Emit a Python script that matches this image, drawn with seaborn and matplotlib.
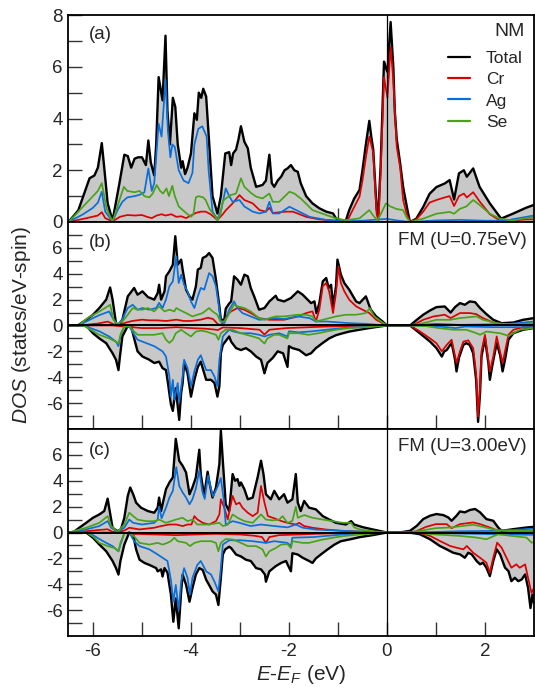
import matplotlib
matplotlib.use("Agg")
import matplotlib.pyplot as plt
import seaborn as sns
from matplotlib.ticker import FixedLocator

# ---------------- data: (E - E_F [eV], DOS) ----------------
# panel (a) NM
a_total = [(-6.5,0),(-6.3,0.45),(-6.07,1.69),(-5.97,1.8),(-5.9,2.1),(-5.82,3.05),(-5.77,2.1),(-5.7,0.72),(-5.6,0.05),(-5.46,1.5),(-5.36,2.6),(-5.29,2.55),(-5.22,2.1),(-5.15,2.45),(-5.08,2.5),(-5.0,2.5),(-4.92,2.2),(-4.87,3.15),(-4.82,2.3),(-4.75,1.8),(-4.71,3.0),(-4.66,5.6),(-4.58,4.7),(-4.52,7.2),(-4.48,4.3),(-4.43,3.0),(-4.37,4.8),(-4.32,4.45),(-4.27,3.0),(-4.2,2.1),(-4.17,2.35),(-4.12,1.85),(-4.07,2.1),(-4.0,2.65),(-3.93,4.2),(-3.88,3.95),(-3.84,5.0),(-3.79,4.8),(-3.75,5.15),(-3.69,4.85),(-3.62,2.8),(-3.56,1.0),(-3.46,0.33),(-3.39,1.0),(-3.3,2.65),(-3.22,2.7),(-3.18,2.2),(-3.14,2.65),(-3.08,2.8),(-3.03,3.2),(-2.98,3.7),(-2.91,3.1),(-2.84,2.85),(-2.78,2.1),(-2.67,1.36),(-2.54,1.43),(-2.47,1.6),(-2.4,2.6),(-2.35,1.5),(-2.3,1.36),(-2.23,1.6),(-2.16,1.75),(-2.09,2.0),(-2.03,2.07),(-1.96,2.2),(-1.89,2.0),(-1.82,1.94),(-1.76,1.5),(-1.65,1.0),(-1.52,0.72),(-1.38,0.53),(-1.24,0.4),(-1.1,0.33),(-1.04,0.14),(-0.97,0.08),(-0.84,0.05),(-0.77,0.46),(-0.67,0.9),(-0.56,1.24),(-0.5,2.0),(-0.43,3.0),(-0.36,3.91),(-0.32,3.3),(-0.28,2.8),(-0.21,0.5),(-0.18,0.2),(-0.13,2.14),(-0.06,6.2),(-0.03,6.0),(0.01,5.8),(0.075,7.73),(0.13,6.0),(0.16,4.3),(0.2,3.2),(0.27,2.26),(0.33,1.36),(0.38,0.85),(0.42,0.45),(0.47,0.0),(0.6,0.13),(0.74,0.58),(0.87,1.09),(1.01,1.35),(1.18,1.49),(1.28,1.62),(1.37,0.87),(1.47,1.88),(1.57,2.0),(1.63,1.75),(1.76,2.07),(1.89,1.36),(2.1,0.72),(2.33,0.13),(2.57,0.32),(2.84,0.55),(3.0,0.66)]
a_cr = [(-6.5,0),(-6.2,0.12),(-5.9,0.25),(-5.82,0.38),(-5.75,0.15),(-5.6,0.02),(-5.45,0.2),(-5.3,0.27),(-5.15,0.25),(-5.0,0.27),(-4.9,0.2),(-4.8,0.15),(-4.7,0.25),(-4.6,0.3),(-4.52,0.25),(-4.4,0.3),(-4.3,0.2),(-4.2,0.22),(-4.1,0.15),(-4.0,0.25),(-3.9,0.35),(-3.8,0.4),(-3.7,0.4),(-3.6,0.3),(-3.46,0.08),(-3.35,0.3),(-3.29,0.45),(-3.15,0.72),(-3.01,1.04),(-2.91,0.85),(-2.74,0.72),(-2.6,0.46),(-2.47,0.4),(-2.4,0.55),(-2.33,0.35),(-2.06,0.4),(-1.92,0.4),(-1.65,0.2),(-1.38,0.1),(-1.04,0.05),(-0.85,0.05),(-0.8,0.08),(-0.7,0.46),(-0.56,0.98),(-0.5,1.6),(-0.43,2.5),(-0.36,3.3),(-0.28,2.68),(-0.21,0.3),(-0.17,0.08),(-0.13,1.88),(-0.06,5.6),(0.01,4.8),(0.075,6.77),(0.13,5.5),(0.2,2.9),(0.27,2.1),(0.33,0.85),(0.4,0.33),(0.47,0.0),(0.6,0.1),(0.74,0.4),(0.87,0.75),(1.01,0.85),(1.18,0.95),(1.28,1.0),(1.37,0.62),(1.47,1.0),(1.57,1.1),(1.63,0.95),(1.76,1.15),(1.89,0.8),(2.1,0.3),(2.33,0.03),(2.57,0.05),(2.84,0.1),(3.0,0.1)]
a_ag = [(-6.5,0),(-6.2,0.3),(-6.0,0.55),(-5.9,0.75),(-5.82,1.17),(-5.75,0.4),(-5.6,0.02),(-5.5,0.45),(-5.4,0.78),(-5.3,0.95),(-5.15,1.0),(-5.05,1.05),(-4.95,1.15),(-4.87,2.07),(-4.8,1.2),(-4.75,1.5),(-4.66,3.8),(-4.6,3.3),(-4.52,5.5),(-4.47,3.5),(-4.42,2.5),(-4.38,3.0),(-4.33,2.9),(-4.25,2.0),(-4.15,1.6),(-4.05,1.5),(-3.97,1.9),(-3.93,3.0),(-3.85,3.6),(-3.77,3.7),(-3.68,3.3),(-3.64,2.0),(-3.56,0.4),(-3.46,0.1),(-3.38,0.5),(-3.29,1.3),(-3.22,1.0),(-3.15,0.78),(-3.01,0.85),(-2.91,0.6),(-2.74,0.4),(-2.6,0.33),(-2.47,0.4),(-2.4,0.78),(-2.33,0.33),(-2.2,0.33),(-1.99,0.59),(-1.79,0.4),(-1.58,0.2),(-1.24,0.08),(-0.9,0.03),(-0.5,0.05),(0.0,0.12),(0.2,0.06),(0.47,0.0),(1.0,0.06),(1.5,0.08),(2.0,0.05),(2.4,0.05),(3.0,0.25)]
a_se = [(-6.5,0),(-6.2,0.6),(-6.0,1.0),(-5.9,1.2),(-5.82,1.5),(-5.72,0.5),(-5.6,0.02),(-5.45,0.9),(-5.37,1.36),(-5.3,1.2),(-5.15,1.15),(-5.05,1.2),(-4.95,1.0),(-4.85,0.95),(-4.78,1.1),(-4.7,1.43),(-4.63,1.2),(-4.57,1.1),(-4.5,1.3),(-4.45,1.0),(-4.38,1.4),(-4.33,1.0),(-4.25,0.6),(-4.1,0.35),(-4.0,0.2),(-3.95,0.3),(-3.9,0.95),(-3.85,1.0),(-3.75,0.95),(-3.7,0.85),(-3.62,0.5),(-3.5,0.2),(-3.46,0.05),(-3.4,0.3),(-3.35,0.8),(-3.29,0.91),(-3.19,1.04),(-3.08,1.1),(-2.98,1.69),(-2.91,1.36),(-2.78,1.13),(-2.67,0.98),(-2.54,0.91),(-2.4,1.1),(-2.33,0.78),(-2.2,0.78),(-1.99,1.17),(-1.89,1.1),(-1.76,0.91),(-1.52,0.46),(-1.24,0.27),(-1.04,0.14),(-0.84,0.07),(-0.56,0.14),(-0.36,0.46),(-0.26,0.2),(-0.19,0.07),(-0.12,0.33),(-0.02,0.72),(0.07,0.6),(0.2,0.5),(0.33,0.46),(0.4,0.19),(0.47,0.0),(0.74,0.13),(1.01,0.32),(1.28,0.39),(1.37,0.32),(1.49,0.51),(1.62,0.6),(1.76,0.85),(1.89,0.66),(2.1,0.32),(2.3,0.13),(2.57,0.06),(3.0,0.2)]

# panel (b) FM U=0.75 eV, spin up (+) and spin down (-)
b_total_up = [(-6.5,0),(-6.31,0),(-6.14,0.44),(-6.0,0.83),(-5.87,1.35),(-5.73,2.0),(-5.65,2.94),(-5.6,2.0),(-5.53,0.18),(-5.46,0),(-5.4,0.44),(-5.29,2.25),(-5.16,2.9),(-5.09,2.38),(-4.99,2.64),(-4.88,2.2),(-4.75,2.0),(-4.68,2.5),(-4.65,3.15),(-4.61,2.0),(-4.54,2.64),(-4.51,3.8),(-4.44,4.19),(-4.37,4.7),(-4.32,6.9),(-4.27,4.7),(-4.2,5.09),(-4.17,4.32),(-4.1,2.77),(-4.03,2.25),(-3.97,2.0),(-3.9,3.02),(-3.86,4.32),(-3.8,4.45),(-3.76,5.22),(-3.69,5.35),(-3.63,5.6),(-3.56,5.22),(-3.49,3.54),(-3.42,1.48),(-3.39,0.44),(-3.32,0.44),(-3.29,1.3),(-3.22,1.7),(-3.18,1.86),(-3.12,3.8),(-3.05,3.54),(-2.98,3.15),(-2.91,3.93),(-2.84,3.8),(-2.78,2.9),(-2.71,2.25),(-2.61,1.22),(-2.5,1.35),(-2.4,1.86),(-2.27,2.3),(-2.23,2.0),(-2.1,1.86),(-1.96,2.12),(-1.82,2.64),(-1.72,2.38),(-1.62,2.0),(-1.55,1.73),(-1.48,1.86),(-1.44,0.96),(-1.38,1.73),(-1.31,3.41),(-1.24,3.67),(-1.19,2.9),(-1.14,3.15),(-1.1,1.48),(-1.04,3.03),(-1.01,5.09),(-0.94,3.93),(-0.87,3.28),(-0.77,2.77),(-0.63,1.86),(-0.56,1.73),(-0.43,2.25),(-0.33,1.22),(-0.22,0.7),(-0.09,0.31),(0.0,0),(0.47,0),(0.61,0.44),(0.74,0.83),(0.88,1.16),(1.01,1.42),(1.18,1.47),(1.3,1.0),(1.39,1.42),(1.49,1.73),(1.59,1.6),(1.69,1.86),(1.8,1.8),(1.9,1.35),(2.03,0.88),(2.17,0.44),(2.34,0.18),(2.58,0.23),(2.78,0.44),(3.0,0.57)]
b_cr_up = [(-6.5,0),(-6.2,0.03),(-5.9,0.15),(-5.7,0.3),(-5.55,0.05),(-5.47,0.0),(-5.35,0.2),(-5.2,0.35),(-5.0,0.45),(-4.85,0.4),(-4.7,0.4),(-4.5,0.35),(-4.3,0.45),(-4.15,0.35),(-4.0,0.35),(-3.8,0.45),(-3.65,0.6),(-3.55,0.5),(-3.45,0.1),(-3.38,0.05),(-3.3,0.5),(-3.25,0.85),(-3.18,1.09),(-3.05,1.35),(-2.91,1.22),(-2.78,0.96),(-2.61,0.57),(-2.4,0.44),(-2.1,0.44),(-1.82,0.7),(-1.65,0.96),(-1.52,1.09),(-1.45,0.31),(-1.38,1.22),(-1.31,3.03),(-1.24,3.28),(-1.18,2.64),(-1.1,0.96),(-1.04,2.51),(-0.99,4.57),(-0.94,3.28),(-0.87,2.64),(-0.77,1.99),(-0.63,1.48),(-0.5,1.22),(-0.36,0.96),(-0.22,0.44),(-0.09,0.18),(0.0,0),(0.47,0),(0.61,0.18),(0.74,0.44),(0.95,0.7),(1.18,0.83),(1.3,0.57),(1.49,0.96),(1.69,0.96),(1.82,0.88),(1.96,0.57),(2.17,0.23),(2.34,0.1),(3.0,0.13)]
b_ag_up = [(-6.5,0),(-6.3,0.0),(-6.0,0.57),(-5.87,0.8),(-5.67,1.08),(-5.6,0.6),(-5.5,0.05),(-5.4,0.5),(-5.29,1.35),(-5.19,1.6),(-5.09,1.22),(-4.99,1.35),(-4.85,1.22),(-4.71,1.35),(-4.65,1.75),(-4.58,1.35),(-4.51,2.0),(-4.44,3.03),(-4.37,3.41),(-4.3,5.35),(-4.25,3.28),(-4.2,3.93),(-4.14,3.15),(-4.07,2.64),(-4.0,1.86),(-3.93,1.35),(-3.86,2.25),(-3.8,2.9),(-3.73,2.77),(-3.63,4.05),(-3.56,3.8),(-3.49,3.03),(-3.43,1.48),(-3.39,0.31),(-3.32,0.18),(-3.29,0.44),(-3.22,1.22),(-3.12,1.86),(-3.05,1.35),(-2.95,0.96),(-2.78,0.7),(-2.61,0.44),(-2.27,0.57),(-2.1,0.5),(-1.82,0.7),(-1.58,0.57),(-1.45,0.31),(-1.24,0.31),(-0.77,0.18),(-0.43,0.13),(0.0,0),(0.47,0),(1.0,0.13),(1.5,0.05),(2.0,0.08),(2.5,0.12),(3.0,0.3)]
b_se_up = [(-6.5,0),(-6.3,0.0),(-6.1,0.6),(-5.87,1.08),(-5.65,1.6),(-5.58,0.44),(-5.5,0.05),(-5.37,0.44),(-5.29,0.83),(-5.19,1.35),(-5.09,1.22),(-4.99,1.22),(-4.88,1.35),(-4.75,1.09),(-4.65,1.48),(-4.54,1.09),(-4.44,1.22),(-4.34,1.09),(-4.3,1.35),(-4.24,1.22),(-4.1,0.96),(-3.97,0.7),(-3.87,0.83),(-3.76,0.96),(-3.63,1.35),(-3.56,1.09),(-3.46,0.83),(-3.4,0.31),(-3.32,0.31),(-3.25,0.7),(-3.18,1.22),(-3.12,1.6),(-3.05,1.48),(-2.91,1.35),(-2.78,1.09),(-2.61,0.57),(-2.5,0.44),(-2.4,0.57),(-2.27,0.7),(-2.1,0.7),(-1.82,0.83),(-1.65,0.83),(-1.52,0.7),(-1.45,0.31),(-1.31,0.44),(-1.04,0.7),(-0.84,0.83),(-0.63,0.83),(-0.43,0.96),(-0.35,1.35),(-0.26,0.7),(-0.12,0.31),(0.0,0),(0.47,0),(0.74,0.18),(1.01,0.44),(1.29,0.44),(1.49,0.57),(1.83,0.7),(1.96,0.44),(2.24,0.18),(2.45,0.1),(2.85,0.13),(3.0,0.18)]
b_total_dn = [(-6.5,0),(-6.14,0),(-6.0,-0.6),(-5.87,-1.0),(-5.73,-1.37),(-5.6,-2.15),(-5.53,-2.65),(-5.48,-3.45),(-5.45,-2.4),(-5.4,-0.85),(-5.29,-0.03),(-5.22,-0.08),(-5.16,-1.0),(-5.09,-2.0),(-4.99,-2.4),(-4.85,-2.65),(-4.75,-2.9),(-4.65,-2.8),(-4.58,-3.3),(-4.51,-3.45),(-4.47,-4.45),(-4.41,-6.1),(-4.37,-6.6),(-4.31,-4.85),(-4.24,-7.3),(-4.2,-5.2),(-4.17,-4.45),(-4.14,-2.9),(-4.07,-3.7),(-4.0,-5.5),(-3.93,-4.2),(-3.86,-3.2),(-3.8,-2.8),(-3.69,-4.2),(-3.59,-4.2),(-3.52,-4.45),(-3.46,-5.5),(-3.42,-4.7),(-3.39,-2.15),(-3.35,-1.5),(-3.29,-1.2),(-3.22,-0.85),(-3.18,-1.25),(-3.08,-1.75),(-2.98,-1.9),(-2.88,-1.75),(-2.78,-2.0),(-2.67,-2.4),(-2.57,-2.65),(-2.5,-3.7),(-2.44,-2.9),(-2.33,-2.5),(-2.23,-2.0),(-2.12,-2.15),(-2.03,-3.2),(-2.0,-1.6),(-1.93,-1.75),(-1.79,-1.9),(-1.65,-2.3),(-1.55,-2.15),(-1.45,-1.75),(-1.31,-1.35),(-1.18,-1.0),(-1.04,-0.75),(-0.9,-0.6),(-0.77,-0.47),(-0.56,-0.33),(-0.36,-0.2),(-0.15,-0.08),(0.0,0),(0.47,0),(0.67,-0.6),(0.88,-1.25),(1.01,-1.75),(1.12,-2.4),(1.17,-2.0),(1.22,-1.9),(1.32,-1.35),(1.39,-2.65),(1.42,-3.55),(1.47,-2.5),(1.56,-1.5),(1.62,-1.37),(1.69,-1.5),(1.76,-2.15),(1.82,-4.2),(1.86,-7.45),(1.9,-5.25),(1.93,-2.4),(2.0,-1.0),(2.07,-2.9),(2.1,-4.2),(2.16,-2.9),(2.24,-1.37),(2.31,-2.3),(2.36,-3.55),(2.41,-2.65),(2.48,-1.1),(2.58,-0.6),(2.78,-0.33),(3.0,-0.2)]
b_cr_dn = [(-6.5,0),(-5.6,0),(-5.3,-0.1),(-5.0,-0.2),(-4.6,-0.2),(-4.3,-0.13),(-4.0,-0.2),(-3.7,-0.25),(-3.56,-0.3),(-3.45,-0.35),(-3.35,-0.15),(-3.0,-0.2),(-2.6,-0.33),(-2.5,-0.7),(-2.4,-0.33),(-2.05,-0.2),(-1.7,-0.15),(-1.24,-0.08),(-0.56,-0.03),(0.0,0),(0.47,0),(0.67,-0.45),(0.88,-1.0),(1.01,-1.37),(1.12,-2.0),(1.22,-1.5),(1.32,-1.1),(1.42,-2.9),(1.49,-2.0),(1.56,-1.25),(1.66,-1.15),(1.76,-1.75),(1.82,-3.7),(1.86,-7.05),(1.9,-4.75),(1.93,-2.0),(2.0,-0.72),(2.1,-3.55),(2.17,-2.4),(2.24,-0.85),(2.36,-2.9),(2.48,-0.72),(2.58,-0.33),(2.78,-0.13),(3.0,-0.08)]
b_ag_dn = [(-6.5,0),(-6.2,0),(-5.87,-0.45),(-5.67,-0.85),(-5.53,-1.25),(-5.48,-1.6),(-5.43,-0.7),(-5.36,-0.08),(-5.26,-0.08),(-5.16,-0.7),(-5.09,-1.1),(-4.92,-1.35),(-4.75,-1.6),(-4.58,-2.0),(-4.51,-2.4),(-4.44,-3.95),(-4.41,-5.5),(-4.37,-4.2),(-4.34,-5.75),(-4.27,-4.45),(-4.24,-5.9),(-4.17,-3.95),(-4.14,-2.65),(-4.07,-3.3),(-4.0,-4.7),(-3.93,-3.55),(-3.86,-2.65),(-3.8,-2.3),(-3.69,-3.45),(-3.59,-3.45),(-3.52,-3.95),(-3.46,-4.7),(-3.42,-2.65),(-3.35,-0.85),(-3.29,-0.6),(-3.22,-0.33),(-3.15,-0.45),(-2.98,-0.6),(-2.78,-0.6),(-2.61,-0.72),(-2.5,-0.85),(-2.4,-0.72),(-2.2,-0.6),(-2.03,-0.85),(-2.0,-0.45),(-1.8,-0.53),(-1.52,-0.45),(-1.24,-0.33),(-0.9,-0.2),(-0.56,-0.13),(0.0,0),(0.47,0),(1.0,-0.05),(1.4,-0.2),(1.6,-0.08),(2.2,-0.13),(3.0,-0.13)]
b_se_dn = [(-6.5,0),(-6.2,0),(-5.87,-0.72),(-5.67,-1.0),(-5.53,-1.25),(-5.48,-1.4),(-5.43,-0.6),(-5.36,-0.08),(-5.26,-0.03),(-5.16,-0.47),(-5.09,-0.72),(-4.92,-0.72),(-4.75,-0.72),(-4.58,-0.6),(-4.51,-1.1),(-4.44,-1.35),(-4.37,-1.1),(-4.31,-0.6),(-4.2,-0.33),(-4.1,-0.6),(-4.0,-0.85),(-3.9,-0.47),(-3.8,-0.4),(-3.69,-0.47),(-3.59,-0.6),(-3.49,-0.72),(-3.44,-1.1),(-3.39,-0.6),(-3.29,-0.33),(-3.15,-0.33),(-2.98,-0.6),(-2.74,-0.85),(-2.61,-1.0),(-2.5,-1.4),(-2.44,-1.0),(-2.3,-0.72),(-2.2,-0.72),(-2.03,-1.0),(-2.0,-0.6),(-1.8,-0.6),(-1.6,-0.72),(-1.4,-0.6),(-1.24,-0.47),(-1.04,-0.33),(-0.77,-0.2),(-0.4,-0.13),(0.0,0),(0.47,0),(0.8,-0.05),(1.06,-0.2),(1.35,-0.33),(1.62,-0.33),(1.83,-0.6),(1.9,-0.72),(2.03,-0.47),(2.31,-0.6),(2.48,-0.8),(2.72,-0.33),(3.0,-0.2)]

# panel (c) FM U=3.00 eV
c_total_up = [(-6.5,0),(-6.41,0),(-6.28,0.37),(-6.14,0.75),(-6.0,1.14),(-5.87,1.4),(-5.77,1.66),(-5.7,2.62),(-5.67,1.92),(-5.6,0.37),(-5.5,0.1),(-5.43,0.24),(-5.36,1.14),(-5.29,2.83),(-5.24,3.48),(-5.18,2.96),(-5.12,2.31),(-5.02,1.92),(-4.88,1.66),(-4.75,1.53),(-4.68,1.92),(-4.65,2.7),(-4.61,1.66),(-4.58,2.18),(-4.51,3.35),(-4.44,3.87),(-4.37,4.26),(-4.31,7.24),(-4.24,5.55),(-4.17,5.16),(-4.1,4.64),(-4.03,2.96),(-3.97,3.48),(-3.9,4.26),(-3.83,6.4),(-3.8,4.52),(-3.73,2.83),(-3.66,4.7),(-3.63,4.0),(-3.56,2.7),(-3.49,3.48),(-3.42,5.29),(-3.39,7.89),(-3.35,5.55),(-3.29,2.18),(-3.22,1.66),(-3.15,4.52),(-3.1,4.0),(-3.05,4.13),(-3.01,3.61),(-2.98,3.87),(-2.91,3.35),(-2.84,2.57),(-2.74,2.7),(-2.64,4.26),(-2.57,5.55),(-2.52,4.52),(-2.47,2.96),(-2.37,2.57),(-2.3,3.22),(-2.2,2.57),(-2.1,2.96),(-2.03,2.31),(-1.93,2.57),(-1.86,4.52),(-1.82,2.31),(-1.76,1.66),(-1.69,2.44),(-1.59,1.92),(-1.45,1.79),(-1.31,1.27),(-1.18,1.01),(-1.04,0.75),(-0.84,0.62),(-0.73,0.88),(-0.67,0.62),(-0.5,0.42),(-0.29,0.24),(0.0,0),(0.3,0.03),(0.47,0.13),(0.61,0.52),(0.74,1.04),(0.88,1.3),(1.01,1.43),(1.15,1.35),(1.25,1.17),(1.32,0.91),(1.42,1.3),(1.49,1.63),(1.59,1.56),(1.69,1.74),(1.8,1.82),(1.9,1.56),(2.03,1.04),(2.17,0.91),(2.27,0.39),(2.34,0.13),(2.58,0.26),(2.85,0.39),(3.0,0.44)]
c_cr_up = [(-6.5,0),(-6.14,0.1),(-5.87,0.2),(-5.7,0.25),(-5.6,0.05),(-5.5,0.02),(-5.36,0.15),(-5.26,0.37),(-5.05,0.24),(-4.75,0.37),(-4.61,0.5),(-4.44,0.62),(-4.3,0.62),(-4.17,0.5),(-4.07,0.62),(-3.99,0.62),(-3.93,1.27),(-3.87,1.01),(-3.76,0.75),(-3.63,0.62),(-3.49,0.88),(-3.42,1.4),(-3.39,2.57),(-3.32,1.92),(-3.25,1.01),(-3.15,2.83),(-3.08,2.18),(-3.01,2.31),(-2.95,1.92),(-2.84,1.53),(-2.74,1.27),(-2.64,1.53),(-2.57,3.6),(-2.5,2.31),(-2.43,1.27),(-2.33,1.14),(-2.15,0.88),(-2.03,0.75),(-1.86,0.62),(-1.79,0.75),(-1.69,0.5),(-1.52,0.37),(-1.24,0.23),(-0.9,0.12),(-0.56,0.07),(0.0,0),(0.47,0.03),(0.6,0.1),(0.8,0.44),(1.0,0.65),(1.22,0.65),(1.32,0.34),(1.49,0.65),(1.76,0.78),(1.9,0.65),(2.1,0.39),(2.24,0.18),(2.6,0.13),(3.0,0.13)]
c_ag_up = [(-6.5,0),(-6.14,0.24),(-5.87,0.5),(-5.7,0.88),(-5.63,0.37),(-5.5,0.05),(-5.36,0.37),(-5.26,1.0),(-5.18,0.75),(-5.0,0.62),(-4.75,0.75),(-4.68,1.0),(-4.65,2.0),(-4.6,1.1),(-4.51,1.92),(-4.44,2.7),(-4.37,3.22),(-4.3,5.06),(-4.24,3.6),(-4.17,3.1),(-4.1,2.7),(-4.03,2.18),(-3.97,2.57),(-3.9,3.4),(-3.83,4.8),(-3.77,3.2),(-3.72,2.6),(-3.65,4.4),(-3.6,3.5),(-3.55,2.8),(-3.45,3.6),(-3.39,4.2),(-3.33,2.5),(-3.29,0.6),(-3.15,0.88),(-3.01,0.75),(-2.78,0.5),(-2.57,0.62),(-2.3,0.5),(-2.03,0.4),(-1.86,0.62),(-1.72,0.37),(-1.45,0.23),(-1.0,0.15),(-0.5,0.07),(0.0,0),(0.5,0),(1.5,0.1),(2.3,0.13),(3.0,0.3)]
c_se_up = [(-6.5,0),(-6.14,0.37),(-5.87,0.75),(-5.7,1.27),(-5.63,0.5),(-5.5,0.05),(-5.36,0.62),(-5.26,1.53),(-5.18,1.27),(-5.09,1.0),(-4.92,0.88),(-4.75,0.88),(-4.65,1.0),(-4.51,0.75),(-4.31,1.0),(-4.17,1.14),(-4.07,0.88),(-3.97,1.0),(-3.87,0.62),(-3.63,0.62),(-3.42,0.75),(-3.35,0.5),(-3.25,0.6),(-3.15,1.4),(-3.05,1.14),(-2.91,0.88),(-2.74,0.75),(-2.57,1.4),(-2.47,1.0),(-2.33,0.94),(-2.2,1.0),(-2.13,1.27),(-2.03,0.75),(-1.93,0.9),(-1.86,2.0),(-1.82,1.14),(-1.69,1.35),(-1.52,1.14),(-1.31,1.0),(-1.1,0.88),(-0.9,0.75),(-0.73,0.75),(-0.67,0.4),(-0.56,0.24),(-0.29,0.1),(0.0,0),(0.5,0.02),(1.0,0.34),(1.29,0.39),(1.76,0.6),(1.96,0.44),(2.24,0.18),(2.6,0.13),(3.0,0.13)]
c_total_dn = [(-6.5,0),(-6.14,0),(-6.0,-0.4),(-5.87,-0.93),(-5.73,-1.45),(-5.6,-2.2),(-5.53,-2.75),(-5.48,-3.25),(-5.44,-2.2),(-5.36,-0.93),(-5.26,0),(-5.18,-0.18),(-5.12,-1.3),(-5.05,-2.1),(-4.95,-2.35),(-4.85,-2.5),(-4.71,-2.75),(-4.68,-3.0),(-4.61,-2.85),(-4.58,-3.4),(-4.54,-2.75),(-4.48,-3.1),(-4.41,-4.8),(-4.36,-6.9),(-4.31,-5.1),(-4.25,-7.4),(-4.2,-4.55),(-4.17,-3.25),(-4.1,-4.05),(-4.03,-5.35),(-3.97,-4.3),(-3.9,-3.25),(-3.83,-2.75),(-3.76,-2.9),(-3.69,-3.65),(-3.63,-4.05),(-3.56,-4.55),(-3.49,-4.8),(-3.44,-5.6),(-3.39,-3.5),(-3.35,-1.7),(-3.3,-1.3),(-3.22,-1.1),(-3.18,-1.2),(-3.08,-1.7),(-2.98,-1.85),(-2.88,-2.1),(-2.78,-2.2),(-2.67,-2.75),(-2.57,-2.85),(-2.49,-3.25),(-2.47,-3.8),(-2.4,-3.0),(-2.27,-2.6),(-2.16,-2.35),(-2.06,-2.2),(-2.03,-2.45),(-1.96,-3.0),(-1.93,-1.6),(-1.82,-1.7),(-1.72,-1.95),(-1.59,-2.2),(-1.52,-2.35),(-1.45,-2.0),(-1.35,-1.7),(-1.21,-1.3),(-1.07,-0.93),(-0.94,-0.67),(-0.77,-0.54),(-0.56,-0.36),(-0.29,-0.2),(0.0,0),(0.5,-0.03),(0.67,-0.13),(0.88,-0.52),(1.08,-1.04),(1.22,-1.3),(1.35,-1.56),(1.49,-1.69),(1.59,-1.95),(1.66,-1.56),(1.73,-1.69),(1.83,-2.2),(1.9,-2.46),(1.96,-2.33),(2.03,-2.72),(2.1,-3.37),(2.17,-2.2),(2.24,-1.3),(2.31,-1.69),(2.41,-2.72),(2.48,-2.98),(2.54,-3.76),(2.61,-3.5),(2.68,-3.76),(2.75,-3.63),(2.82,-3.24),(2.88,-4.28),(2.93,-5.84),(2.97,-4.8),(3.0,-5.45)]
c_cr_dn = [(-6.5,0),(-5.5,0),(-5.2,-0.1),(-4.7,-0.15),(-4.3,-0.2),(-3.9,-0.15),(-3.5,-0.1),(-3.0,-0.15),(-2.7,-0.25),(-2.55,-0.35),(-2.47,-0.8),(-2.4,-0.35),(-2.2,-0.2),(-1.8,-0.15),(-1.3,-0.08),(-0.6,-0.03),(0.0,0),(0.67,-0.03),(0.88,-0.26),(1.08,-0.65),(1.29,-1.04),(1.42,-1.17),(1.56,-1.3),(1.63,-1.04),(1.76,-1.56),(1.9,-1.95),(2.03,-2.33),(2.1,-3.11),(2.17,-1.95),(2.25,-0.78),(2.34,-1.17),(2.44,-1.95),(2.54,-2.72),(2.64,-2.46),(2.71,-2.72),(2.82,-2.46),(2.88,-3.5),(2.95,-4.67),(3.0,-4.28)]
c_ag_dn = [(-6.5,0),(-6.14,0),(-6.0,-0.2),(-5.87,-0.5),(-5.73,-0.8),(-5.6,-1.05),(-5.48,-1.45),(-5.44,-0.93),(-5.36,-0.05),(-5.26,0),(-5.16,-0.67),(-5.05,-1.05),(-4.85,-1.3),(-4.68,-1.7),(-4.58,-1.95),(-4.48,-2.2),(-4.41,-3.65),(-4.36,-5.35),(-4.31,-4.05),(-4.25,-6.0),(-4.2,-3.8),(-4.14,-2.75),(-4.07,-3.5),(-4.02,-4.8),(-3.97,-3.5),(-3.87,-2.5),(-3.8,-2.2),(-3.69,-3.0),(-3.59,-3.25),(-3.52,-3.8),(-3.44,-4.55),(-3.39,-2.75),(-3.35,-0.93),(-3.22,-0.6),(-2.98,-0.6),(-2.74,-0.67),(-2.47,-0.8),(-2.3,-0.67),(-2.03,-0.8),(-1.96,-1.05),(-1.93,-0.4),(-1.5,-0.35),(-1.2,-0.25),(-0.9,-0.15),(-0.5,-0.08),(0.0,0),(0.5,0),(1.5,-0.08),(2.2,-0.13),(3.0,-0.18)]
c_se_dn = [(-6.5,0),(-6.14,0),(-6.0,-0.3),(-5.87,-0.8),(-5.7,-1.05),(-5.56,-1.2),(-5.48,-1.45),(-5.44,-0.8),(-5.36,-0.05),(-5.26,0),(-5.16,-0.3),(-5.05,-0.8),(-4.85,-0.93),(-4.68,-0.8),(-4.58,-0.93),(-4.48,-0.8),(-4.41,-0.67),(-4.34,-0.4),(-4.27,-0.67),(-4.1,-0.8),(-4.02,-1.05),(-3.93,-0.8),(-3.8,-0.67),(-3.59,-0.67),(-3.49,-0.8),(-3.44,-1.45),(-3.39,-0.8),(-3.29,-0.5),(-3.15,-0.54),(-2.98,-0.8),(-2.84,-1.05),(-2.67,-1.05),(-2.54,-1.3),(-2.47,-1.85),(-2.4,-1.45),(-2.27,-1.2),(-2.16,-0.93),(-2.03,-0.9),(-1.96,-1.2),(-1.93,-0.67),(-1.72,-0.8),(-1.59,-0.8),(-1.45,-0.67),(-1.31,-0.54),(-1.1,-0.4),(-0.9,-0.28),(-0.56,-0.15),(0.0,0),(0.6,-0.03),(1.0,-0.15),(1.49,-0.26),(1.83,-0.39),(2.03,-0.52),(2.27,-0.13),(2.54,-0.26),(2.85,-0.39),(2.95,-0.78),(3.0,-0.75)]

species = ["Total", "Cr", "Ag", "Se"]
panel_tags = ["(a)", "(b)", "(c)"]
panel_notes = ["NM", "FM (U=0.75eV)", "FM (U=3.00eV)"]
x_ticks = [-6, -4, -2, 0, 2]
x_minor = [-5, -3, -1, 1]

# ---------------- style ----------------
sns.set_style("ticks")
plt.rcParams["font.family"] = ["Liberation Sans", "DejaVu Sans"]
plt.rcParams["mathtext.fontset"] = "custom"
plt.rcParams["mathtext.rm"] = "Liberation Sans"
plt.rcParams["mathtext.it"] = "Liberation Sans:italic"
plt.rcParams["axes.unicode_minus"] = False

colors = {"Total": "black", "Cr": "#dd0000", "Ag": "#0a6fd8", "Se": "#4aa21a"}
widths = {"Total": 1.7, "Cr": 1.25, "Ag": 1.25, "Se": 1.25}
fill_color = "#c8c8c8"

fig = plt.figure(figsize=(5.35, 6.92), dpi=100)
left, width, height = 0.128, 0.870, 0.2991
bottoms = [0.6792, 0.3801, 0.0809]

panels = [
    dict(up=[a_total, a_cr, a_ag, a_se], dn=None, ylim=(0, 8),
         yt=[0, 2, 4, 6, 8], ym=[1, 3, 5, 7]),
    dict(up=[b_total_up, b_cr_up, b_ag_up, b_se_up],
         dn=[b_total_dn, b_cr_dn, b_ag_dn, b_se_dn], ylim=(-8, 8),
         yt=[-6, -4, -2, 0, 2, 4, 6], ym=[-7, -5, -3, -1, 1, 3, 5, 7]),
    dict(up=[c_total_up, c_cr_up, c_ag_up, c_se_up],
         dn=[c_total_dn, c_cr_dn, c_ag_dn, c_se_dn], ylim=(-8, 8),
         yt=[-6, -4, -2, 0, 2, 4, 6], ym=[-7, -5, -3, -1, 1, 3, 5, 7]),
]


def unzip(pairs):
    return [p[0] for p in pairs], [p[1] for p in pairs]


axes = []
for i, p in enumerate(panels):
    ax = fig.add_axes([left, bottoms[i], width, height])
    axes.append(ax)
    sets = [p["up"]] + ([p["dn"]] if p["dn"] is not None else [])
    for k, curves in enumerate(sets):
        tx, ty = unzip(curves[0])
        ax.fill_between(tx, 0, ty, color=fill_color, lw=0, zorder=1)
        for name, curve in zip(species, curves):
            xs, ys = unzip(curve)
            lab = name if (i == 0 and k == 0) else None
            sns.lineplot(x=xs, y=ys, ax=ax, color=colors[name], linewidth=widths[name],
                         estimator=None, sort=False, label=lab, legend=False, zorder=3)
    if p["dn"] is not None:
        ax.axhline(0, color="black", lw=1.4, zorder=4)
    ax.axvline(0, color="black", lw=0.9, zorder=5)

    ax.set_xlim(-6.5, 3.0)
    ax.set_ylim(*p["ylim"])
    ax.xaxis.set_major_locator(FixedLocator(x_ticks))
    ax.xaxis.set_minor_locator(FixedLocator(x_minor))
    ax.yaxis.set_major_locator(FixedLocator(p["yt"]))
    ax.yaxis.set_minor_locator(FixedLocator(p["ym"]))
    ax.tick_params(which="both", direction="in", length=10, width=1.0, color="#333333",
                   top=False, right=False, labelsize=13.5)
    ax.tick_params(axis="y", pad=4)
    ax.tick_params(axis="x", pad=5, labelbottom=(i == 2))
    for s in ax.spines.values():
        s.set_linewidth(1.3)
        s.set_color("black")
        s.set_zorder(6)
    ax.set_xlabel("")
    ax.set_ylabel("")
    ax.text(0.044, [0.908, 0.901, 0.896][i], panel_tags[i], transform=ax.transAxes,
            fontsize=13.5, ha="left", va="center")
    ax.text(0.985 if i else 0.981, [0.918, 0.91, 0.918][i], panel_notes[i],
            transform=ax.transAxes, fontsize=14 if i == 0 else 13.5,
            ha="right", va="center")

leg = axes[0].legend(loc="upper right", bbox_to_anchor=(0.976, 0.828), frameon=False,
                     fontsize=12.5, handlelength=1.3, handletextpad=0.9,
                     labelspacing=0.36, borderpad=0, borderaxespad=0)
for h in leg.legend_handles:
    h.set_linewidth(1.6)

axes[2].set_xlabel(r"$E$-$E_F$ (eV)", fontsize=15, labelpad=2)
fig.text(0.041, 1 - 325.5 / 692, r"$DOS$ (states/eV-spin)", rotation=90,
         fontsize=15, ha="center", va="center")

fig.savefig("out.png", dpi=100)
